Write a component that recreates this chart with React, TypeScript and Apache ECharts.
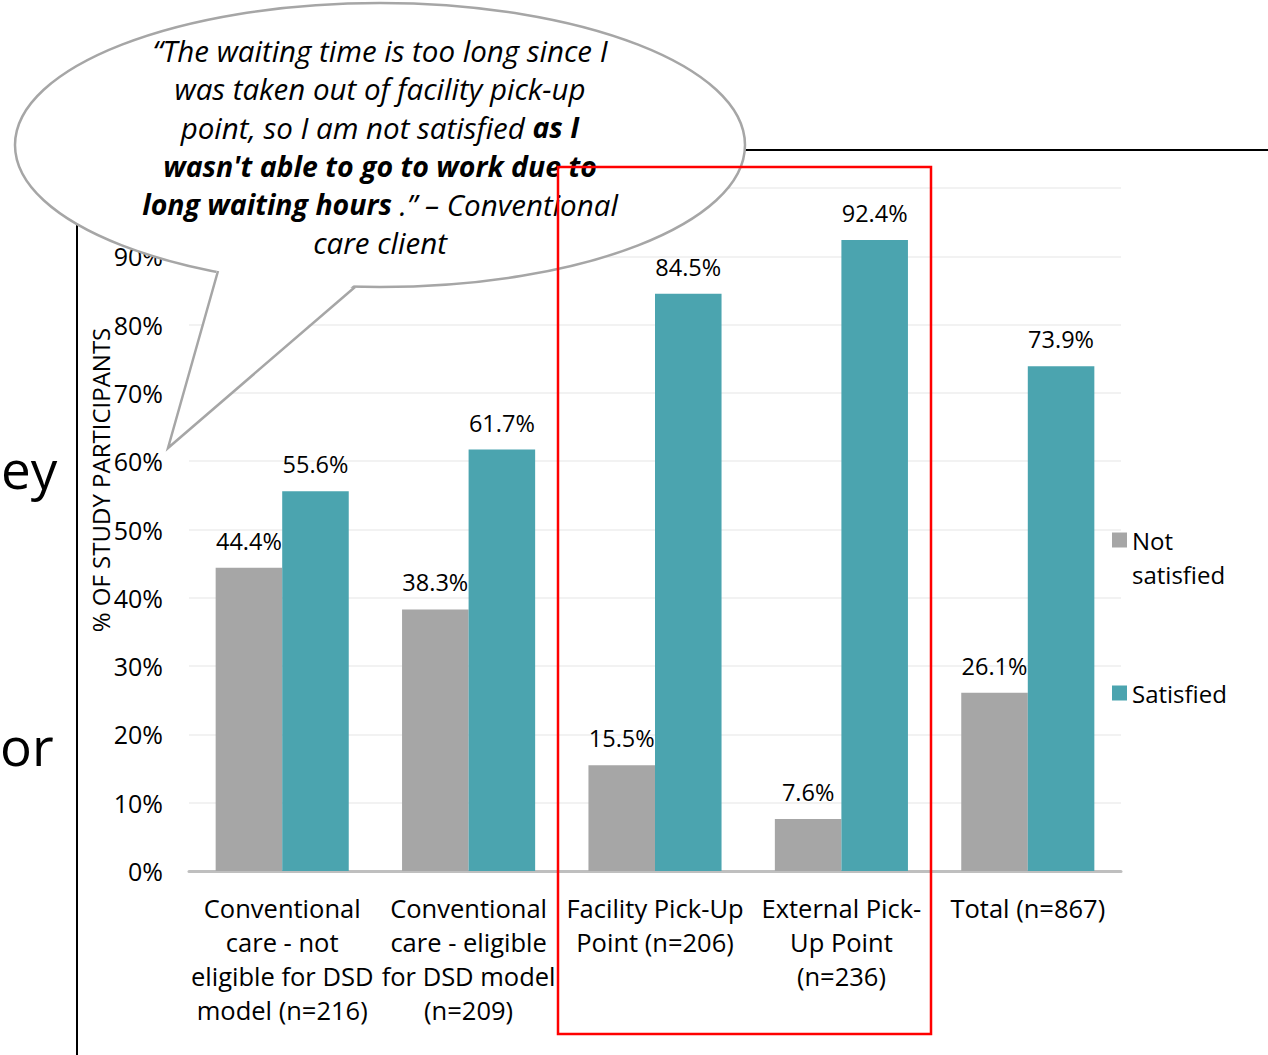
import React, { useEffect, useRef } from "react";
import * as echarts from "echarts";

// Survey categories (x axis), with line breaks as printed under each group
const categories = [
  "Conventional\ncare - not\neligible for DSD\nmodel (n=216)",
  "Conventional\ncare - eligible\nfor DSD model\n(n=209)",
  "Facility Pick-Up\nPoint (n=206)",
  "External Pick-\nUp Point\n(n=236)",
  "Total (n=867)",
];

// Share of participants per category (%)
const notSatisfied = [44.4, 38.3, 15.5, 7.6, 26.1];
const satisfied = [55.6, 61.7, 84.5, 92.4, 73.9];

const seriesNames = ["Not satisfied", "Satisfied"];
const yAxisTitle = "% OF STUDY PARTICIPANTS";
const yMin = 0;
const yMax = 100;
const yStep = 10;

// Client quote shown in the callout; "b" runs are bold
const quoteLines: [string, string][][] = [
  [["i", "“The waiting time is too long since I"]],
  [["i", "was taken out of facility pick-up"]],
  [["i", "point, so I am not satisfied "], ["b", "as I"]],
  [["b", "wasn't able to go to work due to"]],
  [["b", "long waiting hours"], ["i", " .” – Conventional"]],
  [["i", "care client"]],
];

// Slide text fragments at the left edge
const sideFragments = ["ey", "or"];

const FONT = "'Open Sans', 'Noto Sans', sans-serif";
const GREY = "#A6A6A6";
const TEAL = "#4BA4AF";
const OUTLINE = "#A6A6A6";

export default function App() {
  const ref = useRef<HTMLDivElement>(null);

  useEffect(() => {
    document.body.style.margin = "0";
    if (!ref.current) return;
    const chart = echarts.init(ref.current, undefined, { renderer: "svg" });

    const quoteText = quoteLines
      .map((segs) => segs.map(([k, t]) => `{${k}|${t}}`).join(""))
      .join("\n");

    const barLabel = {
      show: true,
      position: "top" as const,
      distance: 15,
      fontSize: 23.5,
      fontFamily: FONT,
      color: "#000",
      formatter: "{c}%",
    };

    const legendText = {
      fontSize: 24,
      lineHeight: 34,
      color: "#000",
      fontFamily: FONT,
    };

    chart.setOption({
      animation: false,
      backgroundColor: "#fff",
      textStyle: { fontFamily: FONT },
      grid: { left: 189, right: 147, top: 188, bottom: 184 },
      legend: [
        {
          data: [seriesNames[0]],
          left: 1112,
          top: 489,
          padding: 0,
          icon: "rect",
          itemWidth: 15,
          itemHeight: 15,
          selectedMode: false,
          // leading blank line keeps the swatch level with the first word
          formatter: () => "\nNot\nsatisfied",
          textStyle: legendText,
        },
        {
          data: [seriesNames[1]],
          left: 1112,
          top: 676,
          padding: 0,
          icon: "rect",
          itemWidth: 15,
          itemHeight: 15,
          selectedMode: false,
          textStyle: legendText,
        },
      ],
      xAxis: {
        type: "category",
        data: categories,
        axisTick: { show: false },
        axisLine: { lineStyle: { color: "#BFBFBF", width: 3 } },
        axisLabel: {
          interval: 0,
          fontSize: 25.5,
          lineHeight: 34,
          margin: 20,
          color: "#000",
          fontFamily: FONT,
        },
      },
      yAxis: {
        type: "value",
        min: yMin,
        max: yMax,
        interval: yStep,
        axisLine: { show: false },
        axisTick: { show: false },
        axisLabel: {
          formatter: "{value}%",
          fontSize: 25,
          margin: 26,
          color: "#000",
          fontFamily: FONT,
          // the top tick label sits under the callout
          showMaxLabel: false,
        },
        splitLine: { lineStyle: { color: "#EEEEEE", width: 1.5 } },
      },
      series: [
        {
          name: seriesNames[0],
          type: "bar",
          data: notSatisfied,
          itemStyle: { color: GREY },
          barGap: "0%",
          barCategoryGap: "28.6%",
          label: barLabel,
        },
        {
          name: seriesNames[1],
          type: "bar",
          data: satisfied,
          itemStyle: { color: TEAL },
          barGap: "0%",
          barCategoryGap: "28.6%",
          label: barLabel,
        },
      ],
      graphic: [
        // slide frame lines
        {
          type: "line",
          z: 1,
          shape: { x1: 77, y1: 150, x2: 77, y2: 1055 },
          style: { stroke: "#000", lineWidth: 2 },
        },
        {
          type: "line",
          z: 1,
          shape: { x1: 600, y1: 150, x2: 1268, y2: 150 },
          style: { stroke: "#000", lineWidth: 2 },
        },
        {
          type: "text",
          z: 1,
          x: 1,
          y: 468,
          style: {
            text: sideFragments[0],
            fontSize: 53,
            fontFamily: FONT,
            fill: "#000",
            align: "left",
            verticalAlign: "middle",
          },
        },
        {
          type: "text",
          z: 1,
          x: 0,
          y: 745,
          style: {
            text: sideFragments[1],
            fontSize: 53,
            fontFamily: FONT,
            fill: "#000",
            align: "left",
            verticalAlign: "middle",
          },
        },
        // y axis title
        {
          type: "text",
          z: 5,
          x: 100,
          y: 480,
          rotation: Math.PI / 2,
          style: {
            text: yAxisTitle,
            fontSize: 24,
            fontFamily: FONT,
            fill: "#000",
            align: "center",
            verticalAlign: "middle",
          },
        },
        // speech bubble
        {
          type: "ellipse",
          z: 50,
          shape: { cx: 380, cy: 145, rx: 365, ry: 142 },
          style: { fill: "#fff", stroke: OUTLINE, lineWidth: 2.5 },
        },
        {
          type: "polygon",
          z: 51,
          shape: {
            points: [
              [218, 266],
              [168, 448],
              [356, 283],
              [300, 268],
            ],
          },
          style: { fill: "#fff", stroke: "none" },
        },
        {
          type: "polyline",
          z: 52,
          shape: {
            points: [
              [218, 271],
              [168, 448],
              [355, 287],
            ],
          },
          style: { stroke: OUTLINE, lineWidth: 2.5, fill: "none" },
        },
        {
          type: "text",
          z: 53,
          x: 380,
          y: 30.75,
          style: {
            text: quoteText,
            align: "center",
            verticalAlign: "top",
            fill: "#000",
            rich: {
              i: {
                fontFamily: FONT,
                fontStyle: "italic",
                fontSize: 29.5,
                lineHeight: 38.5,
                fill: "#000",
                align: "center",
              },
              b: {
                fontFamily: FONT,
                fontStyle: "italic",
                fontWeight: "bold",
                fontSize: 28.5,
                lineHeight: 38.5,
                fill: "#000",
                align: "center",
              },
            },
          },
        },
        // highlight box around the pick-up point groups
        {
          type: "rect",
          z: 60,
          shape: { x: 558, y: 167, width: 373, height: 867 },
          style: { fill: "none", stroke: "#FF0000", lineWidth: 2.5 },
        },
      ],
    });

    return () => chart.dispose();
  }, []);

  return (
    <div
      ref={ref}
      style={{ position: "absolute", left: 0, top: 0, width: 1268, height: 1055 }}
    />
  );
}
